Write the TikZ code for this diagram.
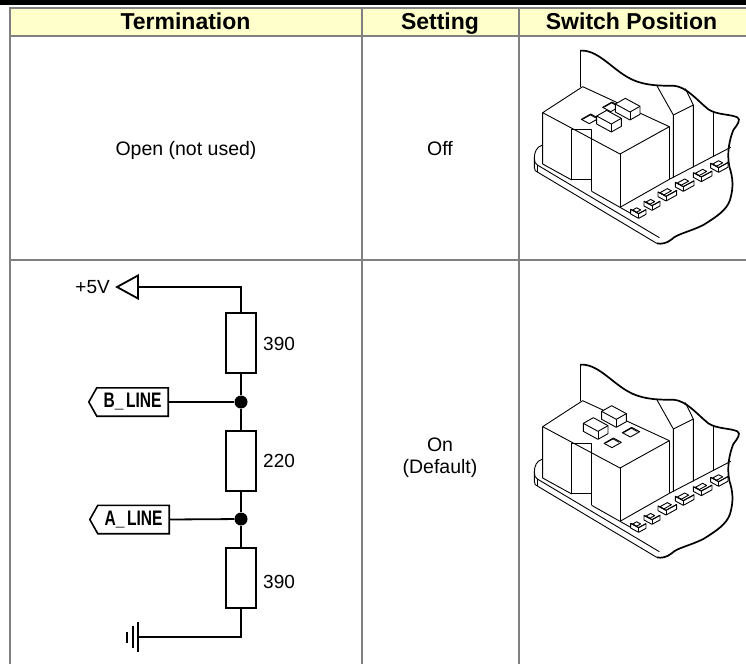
\documentclass[tikz,border=0pt]{standalone}
\usepackage{fontspec}
\usepackage{graphicx}
\setmainfont{Liberation Sans}
\definecolor{hdr}{HTML}{FFFFCC}
\definecolor{gridc}{HTML}{808080}
\tikzset{
  gridline/.style={draw=gridc, line width=2pt},
  hdrtext/.style={font=\fontsize{23}{26}\selectfont\bfseries, inner sep=0, anchor=base},
  bodytext/.style={font=\fontsize{19.5}{22}\selectfont, inner sep=0, anchor=base},
  lbl/.style={font=\fontsize{19}{22}\selectfont, inner sep=0},
  res/.style={draw, line width=1.8pt, minimum width=30pt, minimum height=60pt, inner sep=0, fill=white},
  wire/.style={line width=1.8pt},
  junc/.style={circle, fill, inner sep=0, minimum size=13pt},
  tagnode/.style={minimum width=71pt, minimum height=28pt, inner sep=0, font=\fontsize{21}{22}\selectfont\bfseries},
  sk/.style={line width=0.9pt, line join=round},
  skthick/.style={line width=1.7pt, line join=round},
}
% small component on the board: #1,#2 left corner of top face, #3 length
\newcommand\compbox[3]{%
  \draw[sk,fill=white] (#1,#2) -- ++(0,14) -- ++(24,13) -- ++({#3},{-0.55*#3}) -- ++(0,-14) -- ++({-#3},{0.55*#3}) -- ++(-24,-13) -- cycle;
  \draw[sk] (#1,#2) -- ++(24,13) -- ++({#3},{-0.55*#3});
  \draw[sk] (#1+24,#2+13) -- ++(0,14);
  \draw[sk] (#1+6,#2+2) -- ++({#3-10},{-0.55*(#3-10)}) -- ++(12,6.5) -- ++({-(#3-10)},{0.55*(#3-10)}) -- cycle;}
\newcommand\levercube[2]{%
  \draw[sk,fill=white] (#1,#2) -- ++(0,24) -- ++(44,24) -- ++(30,-17) -- ++(0,-24) -- ++(-44,-24) -- cycle;
  \draw[sk] (#1,#2) -- ++(44,24) -- ++(30,-17);
  \draw[sk] (#1+44,#2+24) -- ++(0,24);}
\newcommand\leverslot[2]{%
  \draw[sk,fill=white] (#1,#2) -- ++(28,-16) -- ++(24,13) -- ++(-28,16) -- cycle;
  \draw[sk] (#1+5,#2-1) -- ++(22,-12.5) -- ++(18,10);}
\newcommand\switchbase{%
  \draw[sk] (240,172) -- (240,62);
  \draw[skthick] (240,62) .. controls (290,58) and (330,110) .. (380,140)
    .. controls (420,165) and (470,168) .. (520,167)
    .. controls (560,170) and (590,210) .. (625,238)
    .. controls (650,255) and (690,252) .. (712,262)
    .. controls (724,268) and (712,285) .. (700,300)
    .. controls (688,330) and (680,370) .. (688,410)
    .. controls (698,440) and (702,470) .. (690,510)
    .. controls (680,540) and (650,560) .. (610,585)
    .. controls (570,605) and (530,612) .. (515,628)
    .. controls (500,640) and (485,643) .. (470,640);
  \draw[sk] (470,166) -- (520,255) -- (520,442);
  \draw[sk] (520,255) -- (580,225) -- (580,412);
  \draw[sk] (556,176) -- (580,225);
  \draw[sk] (640,247) -- (640,382);
  \draw[sk] (508,448) -- (692,352);
  \draw[sk] (128,345) .. controls (110,350) and (103,365) .. (103,385)
    .. controls (103,395) and (106,402) .. (112,405) -- (478,623);
  \draw[sk] (103,385) -- (103,412) .. controls (103,420) and (107,425) .. (112,426) -- (470,640);
  \draw[sk] (112,405) -- (112,426);
  \draw[sk,fill=white] (128,248) -- (248,170) -- (508,290) -- (360,372) -- cycle;
  \draw[sk] (128,248) -- (128,402) -- (215,450);
  \draw[sk] (360,372) -- (360,532);
  \draw[sk] (508,290) -- (508,448);
  \draw[sk] (360,532) -- (508,448);
  \draw[sk] (360,532) -- (392,550);
  \draw[sk] (215,450) -- (215,298) -- (275,298) -- (275,484);
  \draw[sk] (215,448) -- (275,448);
  \draw[sk] (275,484) -- (360,532);
  \compbox{632}{400}{28}
  \compbox{580}{428}{32}
  \compbox{526}{457}{32}
  \compbox{474}{486}{32}
  \compbox{432}{514}{24}
  \compbox{392}{538}{22}}
\begin{document}
\begin{tikzpicture}[x=1pt,y=-1pt]
\useasboundingbox (0,0) rectangle (746,664);
% top bar and header
\fill[black] (0,0) rectangle (746,5);
\fill[hdr] (9.5,8) rectangle (746,36);
\draw[gridline] (9.5,8) -- (746,8);
\draw[gridline] (9.5,36) -- (746,36);
\draw[gridline] (9.5,259.5) -- (746,259.5);
\draw[gridline] (9.5,7) -- (9.5,664);
\draw[gridline] (361.5,7) -- (361.5,664);
\draw[gridline] (518.5,7) -- (518.5,664);
\node[hdrtext] (h1) at (185.5,29) {Termination};
\node[hdrtext] (h2) at (440,29) {Setting};
\node[hdrtext] (h3) at (631.5,29) {Switch Position};
% row 1
\node[bodytext] (open) at (186,155) {Open (not used)};
\node[bodytext] (off) at (440,155) {Off};
% row 2
\node[bodytext] (on1) at (440,451) {On};
\node[bodytext] (on2) at (440,473) {(Default)};
% circuit
\coordinate (vt) at (138,287);
\coordinate (c1) at (241,287);
\draw[wire, line join=miter] (vt) -- ++(0,-11.5) -- ++(-21,11.5) -- ++(21,11.5) -- cycle;
\node[lbl, anchor=east] (vlabel) at (110,287) {+5V};
\node[res] (r1) at (241,343) {};
\node[res] (r2) at (241,461) {};
\node[res] (r3) at (241,578) {};
\node[lbl, anchor=west] (l1) at (263,344) {390};
\node[lbl, anchor=west] (l2) at (263,461) {220};
\node[lbl, anchor=west] (l3) at (263,582) {390};
\node[junc] (j1) at (241,402) {};
\node[junc] (j2) at (241,519) {};
\node[tagnode] (tagB) at (132.5,402) {\scalebox{0.74}[1]{B\_\,LINE}};
\node[tagnode] (tagA) at (133.5,519.5) {\scalebox{0.74}[1]{A\_\,LINE}};
\foreach \t in {tagB,tagA}{
  \draw[line width=1.6pt, line join=miter] (\t.north east) -- (\t.south east) -- (\t.south west) -- ([xshift=-8pt]\t.west) -- (\t.north west) -- cycle;}
\coordinate (c2) at (241,637);
\coordinate (gnd) at (138,637);
\draw[wire] (vt) -- (c1) -- (r1.north);
\draw[wire] (r1.south) -- (j1) -- (r2.north);
\draw[wire] (r2.south) -- (j2) -- (r3.north);
\draw[wire] (r3.south) -- (c2) -- (gnd);
\draw[wire] (tagB.east) -- (j1);
\draw[wire] (tagA.east) -- (j2);
\draw[line width=1.8pt] ([yshift=-15pt]gnd) -- ([yshift=15pt]gnd);
\draw[line width=1.8pt] ([xshift=-5pt,yshift=-11pt]gnd) -- ([xshift=-5pt,yshift=11pt]gnd);
\draw[line width=2.2pt] ([xshift=-11pt,yshift=-5.5pt]gnd) -- ([xshift=-11pt,yshift=5.5pt]gnd);
% switch pictures
\begin{scope}[shift={(500,30)}, scale=1/3]
  \switchbase
  \leverslot{308}{232}
  \levercube{346}{222}
  \leverslot{244}{268}
  \levercube{290}{258}
\end{scope}
\begin{scope}[shift={(500,344)}, scale=1/3]
  \switchbase
  \leverslot{367}{266}
  \levercube{305}{202}
  \leverslot{312}{298}
  \levercube{250}{238}
\end{scope}
\end{tikzpicture}
\end{document}
